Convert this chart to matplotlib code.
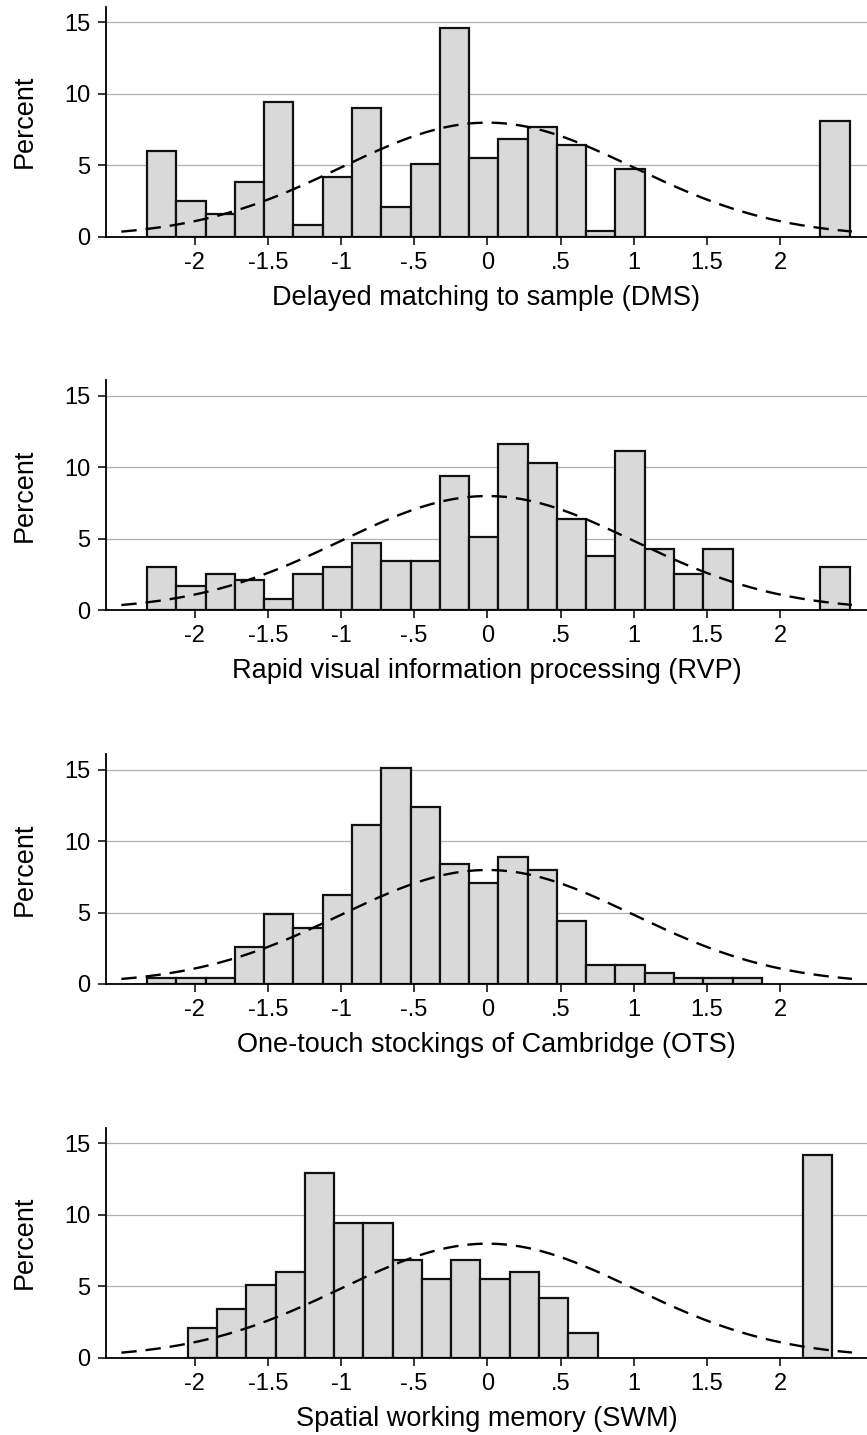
import numpy as np
import matplotlib
matplotlib.use('Agg')
from matplotlib import pyplot as plt

plt.rcParams['font.family'] = ['Liberation Sans', 'DejaVu Sans']

# percent of sample per 0.2-wide bin (0 = empty bin)
bin_width = 0.2

dms_start = -2.325
dms_pct = [6.0, 2.5, 1.6, 3.8, 9.4, 0.8, 4.2, 9.0, 2.1, 5.1, 14.6, 5.5,
           6.8, 7.7, 6.4, 0.4, 4.7, 0, 0, 0, 0, 0, 0, 8.1]

rvp_start = -2.325
rvp_pct = [3.0, 1.7, 2.5, 2.1, 0.8, 2.5, 3.0, 4.7, 3.4, 3.4, 9.4, 5.1,
           11.6, 10.3, 6.4, 3.8, 11.1, 4.3, 2.5, 4.3, 0, 0, 0, 3.0]

ots_start = -2.325
ots_pct = [0.4, 0.4, 0.4, 2.6, 4.9, 3.9, 6.2, 11.1, 15.1, 12.4, 8.4, 7.1,
           8.9, 8.0, 4.4, 1.3, 1.3, 0.8, 0.4, 0.4, 0.4, 0, 0, 0]

swm_start = -2.047
swm_pct = [2.1, 3.4, 5.1, 6.0, 12.9, 9.4, 9.4, 6.8, 5.5, 6.8, 5.5, 6.0,
           4.2, 1.7, 0, 0, 0, 0, 0, 0, 0, 14.2]

labels = ['Delayed matching to sample (DMS)',
          'Rapid visual information processing (RVP)',
          'One-touch stockings of Cambridge (OTS)',
          'Spatial working memory (SWM)']

xticks = [-2, -1.5, -1, -0.5, 0, 0.5, 1, 1.5, 2]
xticklabels = ['-2', '-1.5', '-1', '-.5', '0', '.5', '1', '1.5', '2']
yticks = [0, 5, 10, 15]

# normal overlay (z-scores: mean 0, sd 1)
mu, sd = 0.0, 1.0

panels = [(dms_start, dms_pct), (rvp_start, rvp_pct),
          (ots_start, ots_pct), (swm_start, swm_pct)]

fig = plt.figure(figsize=(8.67, 14.35), dpi=100)
bottoms = [0.8351, 0.5749, 0.3143, 0.0539]

xs = np.linspace(-2.5, 2.49, 300)
ys = 100 * bin_width * np.exp(-0.5 * ((xs - mu) / sd) ** 2) / (sd * np.sqrt(2 * np.pi))

for (start, pct), label, b in zip(panels, labels, bottoms):
    ax = fig.add_axes([0.1219, b, 0.8781, 0.1603])
    pct = np.array(pct)
    lefts = start + bin_width * np.arange(len(pct))
    keep = pct > 0
    ax.bar(lefts[keep], pct[keep], width=bin_width, align='edge',
           color='#d9d9d9', edgecolor='#111111', linewidth=1.6, zorder=2)
    ax.plot(xs, ys, color='black', linewidth=1.7, linestyle=(0, (6.5, 3.8)), zorder=3)

    ax.set_xlim(-2.607, 2.593)
    ax.set_ylim(0, 16.1)
    ax.set_xticks(xticks)
    ax.set_xticklabels(xticklabels)
    ax.set_yticks(yticks)
    ax.yaxis.grid(True, color='#b0b0b0', linewidth=0.9, zorder=0)
    ax.set_axisbelow(True)
    for s in ['top', 'right']:
        ax.spines[s].set_visible(False)
    for s in ['left', 'bottom']:
        ax.spines[s].set_linewidth(1.3)
    ax.tick_params(axis='both', direction='out', length=6, width=1.1,
                   labelsize=17, pad=5)
    ax.set_ylabel('Percent', fontsize=19.5)
    ax.yaxis.set_label_coords(-0.106, 0.5)
    ax.set_xlabel(label, fontsize=19.5)
    ax.xaxis.set_label_coords(0.5, -0.266)
    ax.xaxis.label.set_va('center')
    ax.yaxis.label.set_va('center')

fig.savefig('out.png', dpi=100)
